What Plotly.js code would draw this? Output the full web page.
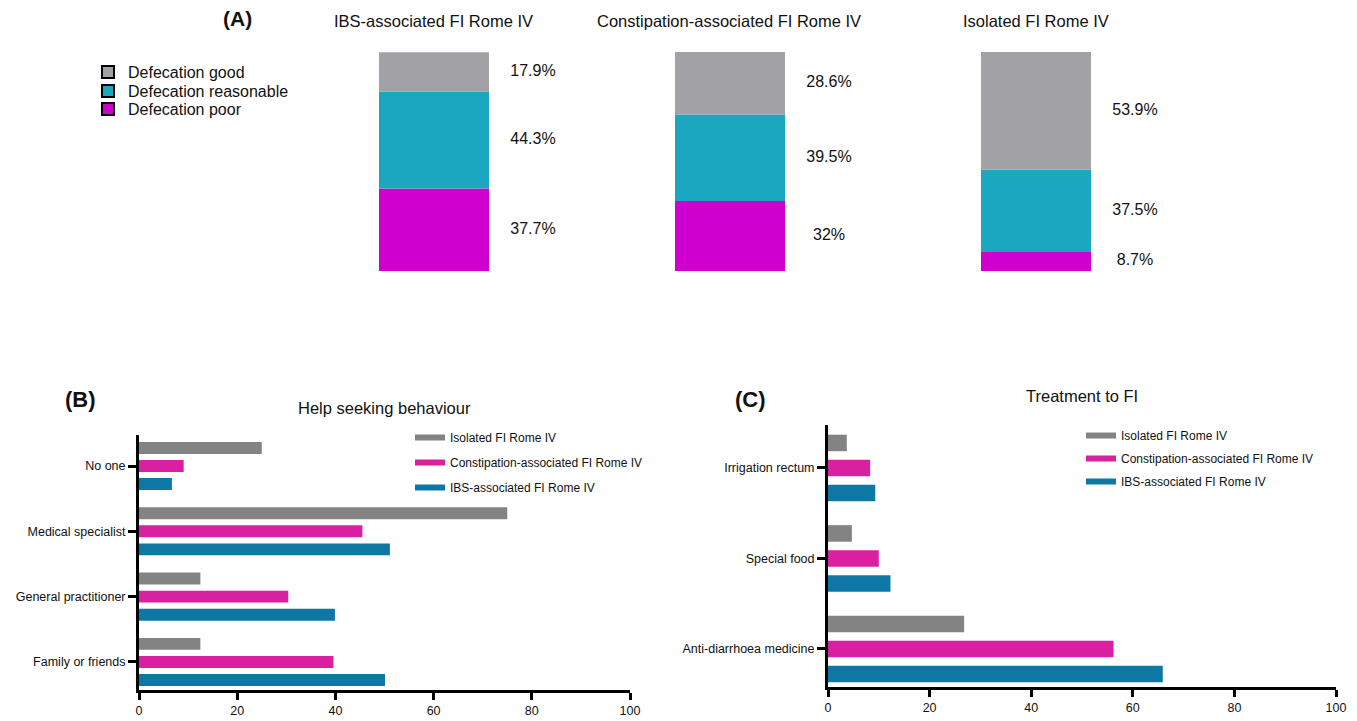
<!DOCTYPE html>
<html>
<head>
<meta charset="utf-8">
<script src="https://cdn.plot.ly/plotly-3.0.1.min.js"></script>
<style>html,body{margin:0;padding:0;background:#fff;}#chart{width:1357px;height:721px;}</style>
</head>
<body>
<div id="chart"></div>
<script>
// ---- Panel A data (percent of patients) ----
var groupsA = ['IBS-associated FI Rome IV', 'Constipation-associated FI Rome IV', 'Isolated FI Rome IV'];
var defecationLevels = ['Defecation poor', 'Defecation reasonable', 'Defecation good'];
var poorA = [37.7, 32, 8.7];
var reasonableA = [44.3, 39.5, 37.5];
var goodA = [17.9, 28.6, 53.9];

// ---- Panel B data ----
var catsB = ['No one', 'Medical specialist', 'General practitioner', 'Family or friends'];
var isolatedB = [25, 75, 12.5, 12.5];
var constipB = [9.1, 45.5, 30.4, 39.6];
var ibsB = [6.7, 51.1, 39.9, 50.1];

// ---- Panel C data ----
var catsC = ['Irrigation rectum', 'Special food', 'Anti-diarrhoea medicine'];
var isolatedC = [3.7, 4.7, 26.8];
var constipC = [8.3, 10.0, 56.2];
var ibsC = [9.3, 12.3, 65.9];

var seriesNames = ['Isolated FI Rome IV', 'Constipation-associated FI Rome IV', 'IBS-associated FI Rome IV'];
var tickVals = [0, 20, 40, 60, 80, 100];
var tickText = ['0', '20', '40', '60', '80', '100'];

var W = 1357, H = 721;
function px(x) { return x / W; }
function py(y) { return 1 - y / H; }

var colA = {poor: '#CF00CF', reasonable: '#1AA7BF', good: '#A2A1A6'};
var colGray = '#838383', colMag = '#D820A0', colBlue = '#0E78A5';

var fontA = 'Liberation Sans, Arial, sans-serif';
var fontN = 'Liberation Sans, Arial, sans-serif';

var traces = [];
var xKeys = ['x', 'x2', 'x3'];
var levelVals = [poorA, reasonableA, goodA];
var levelCols = [colA.poor, colA.reasonable, colA.good];

for (var g = 0; g < groupsA.length; g++) {
  var base = 0;
  var labX = [], labY = [], labT = [];
  for (var l = 0; l < levelVals.length; l++) {
    var v = levelVals[l][g];
    traces.push({
      type: 'bar', x: [0], y: [v], base: [base], width: [1], offset: -0.5,
      xaxis: xKeys[g], yaxis: 'y', marker: {color: levelCols[l], line: {width: 0}},
      showlegend: false, hoverinfo: 'skip'
    });
    labX.push(0.9); labY.push(base + v / 2); labT.push(v + '%');
    base += v;
  }
  traces.push({
    type: 'scatter', mode: 'text', x: labX, y: labY, text: labT,
    textfont: {family: fontA, size: 16, color: '#111'}, textposition: 'middle center',
    xaxis: xKeys[g], yaxis: 'y', showlegend: false, hoverinfo: 'skip'
  });
}
// legend entries for panel A (poor bottom, reasonable middle, good top), one legend each
var aLegendKeys = ['legend4', 'legend5', 'legend6'];
for (var l2 = levelVals.length - 1; l2 >= 0; l2--) {
  traces.push({
    type: 'bar', x: [null], y: [null], xaxis: 'x', yaxis: 'y', name: defecationLevels[l2],
    marker: {color: levelCols[l2], line: {color: '#000', width: 2}}, legend: aLegendKeys[l2], hoverinfo: 'skip'
  });
}

// Panel B and C bars
var valsB = [isolatedB, constipB, ibsB];
var valsC = [isolatedC, constipC, ibsC];
var cols = [colGray, colMag, colBlue];
for (var s = 0; s < 3; s++) {
  traces.push({type: 'bar', orientation: 'h', y: catsB, x: valsB[s], xaxis: 'x4', yaxis: 'y2',
    marker: {color: cols[s]}, showlegend: false, name: seriesNames[s]});
}
for (var s2 = 0; s2 < 3; s2++) {
  traces.push({type: 'bar', orientation: 'h', y: catsC, x: valsC[s2], xaxis: 'x5', yaxis: 'y3',
    marker: {color: cols[s2]}, showlegend: false, name: seriesNames[s2]});
}
// legend entries for B and C
for (var s3 = 0; s3 < 3; s3++) {
  traces.push({type: 'scatter', mode: 'lines', x: [null], y: [null], xaxis: 'x4', yaxis: 'y2',
    name: seriesNames[s3], line: {color: cols[s3], width: 6}, legend: 'legend2', legendgroup: 'b' + s3, hoverinfo: 'skip'});
  traces.push({type: 'scatter', mode: 'lines', x: [null], y: [null], xaxis: 'x5', yaxis: 'y3',
    name: seriesNames[s3], line: {color: cols[s3], width: 6}, legend: 'legend3', legendgroup: 'c' + s3, hoverinfo: 'skip'});
}

function aAxis(d0, d1) {
  return {domain: [px(d0), px(d1)], range: [-0.5, 1.5], visible: false, fixedrange: true, anchor: 'y'};
}
function valAxis(d0, d1, anchor) {
  return {domain: [px(d0), px(d1)], range: [0, 100], anchor: anchor, tickvals: tickVals, ticktext: tickText,
    showgrid: false, zeroline: false, showline: true, linecolor: '#000', linewidth: 3,
    ticks: 'outside', ticklen: 7, tickwidth: 3, tickcolor: '#000',
    tickfont: {family: fontN, size: 12.5, color: '#111'}};
}
function catAxis(d0, d1, anchor, range) {
  return {domain: [py(d1), py(d0)], range: range, anchor: anchor, type: 'category',
    showgrid: false, zeroline: false, showline: true, linecolor: '#000', linewidth: 3,
    ticks: 'outside', ticklen: 8, tickwidth: 3, tickcolor: '#000',
    tickfont: {family: fontN, size: 12.5, color: '#111'}};
}
function aLegend(yc) {
  return {x: px(88), y: py(yc), xanchor: 'left', yanchor: 'middle', bgcolor: 'rgba(0,0,0,0)',
    font: {family: fontA, size: 16, color: '#111'}, itemclick: false};
}
function ann(text, x, y, size, fam) {
  return {text: text, x: px(x), y: py(y), xref: 'paper', yref: 'paper', xanchor: 'center', yanchor: 'middle',
    showarrow: false, font: {family: fam, size: size, color: '#111'}};
}

var layout = {
  width: W, height: H, margin: {l: 0, r: 0, t: 0, b: 0}, paper_bgcolor: '#fff', plot_bgcolor: 'rgba(0,0,0,0)',
  barmode: 'group', bargap: 0.17, bargroupgap: 0.34,
  xaxis: aAxis(379, 599), xaxis2: aAxis(675, 895), xaxis3: aAxis(981, 1201),
  yaxis: {domain: [py(271), py(52)], range: [0, 100], visible: false, anchor: 'x'},
  xaxis4: valAxis(139, 630, 'y2'),
  yaxis2: catAxis(435, 690, 'x4', [3.43, -0.475]),
  xaxis5: valAxis(828, 1336, 'y3'),
  yaxis3: catAxis(425, 687, 'x5', [2.42, -0.475]),
  legend6: aLegend(72),
  legend5: aLegend(91),
  legend4: aLegend(109),
  legend2: {x: px(410), y: py(423), xanchor: 'left', yanchor: 'top', bgcolor: 'rgba(0,0,0,0)',
    font: {family: fontN, size: 12, color: '#111'}, traceorder: 'grouped', tracegroupgap: 6, itemclick: false},
  legend3: {x: px(1081), y: py(421), xanchor: 'left', yanchor: 'top', bgcolor: 'rgba(0,0,0,0)',
    font: {family: fontN, size: 12, color: '#111'}, traceorder: 'grouped', tracegroupgap: 4, itemclick: false},
  annotations: [
    ann('<b>(A)</b>', 237, 19, 21, fontA),
    ann(groupsA[0], 434, 21, 16.5, fontA),
    ann(groupsA[1], 729, 21, 16.5, fontA),
    ann(groupsA[2], 1036, 21, 16.5, fontA),
    ann('<b>(B)</b>', 80, 399, 22, fontA),
    ann('Help seeking behaviour', 384, 408, 16.5, fontN),
    ann('<b>(C)</b>', 750, 399, 22, fontA),
    ann('Treatment to FI', 1082, 396, 16.5, fontN)
  ]
};

Plotly.newPlot('chart', traces, layout, {displayModeBar: false, staticPlot: true});
</script>
</body>
</html>
